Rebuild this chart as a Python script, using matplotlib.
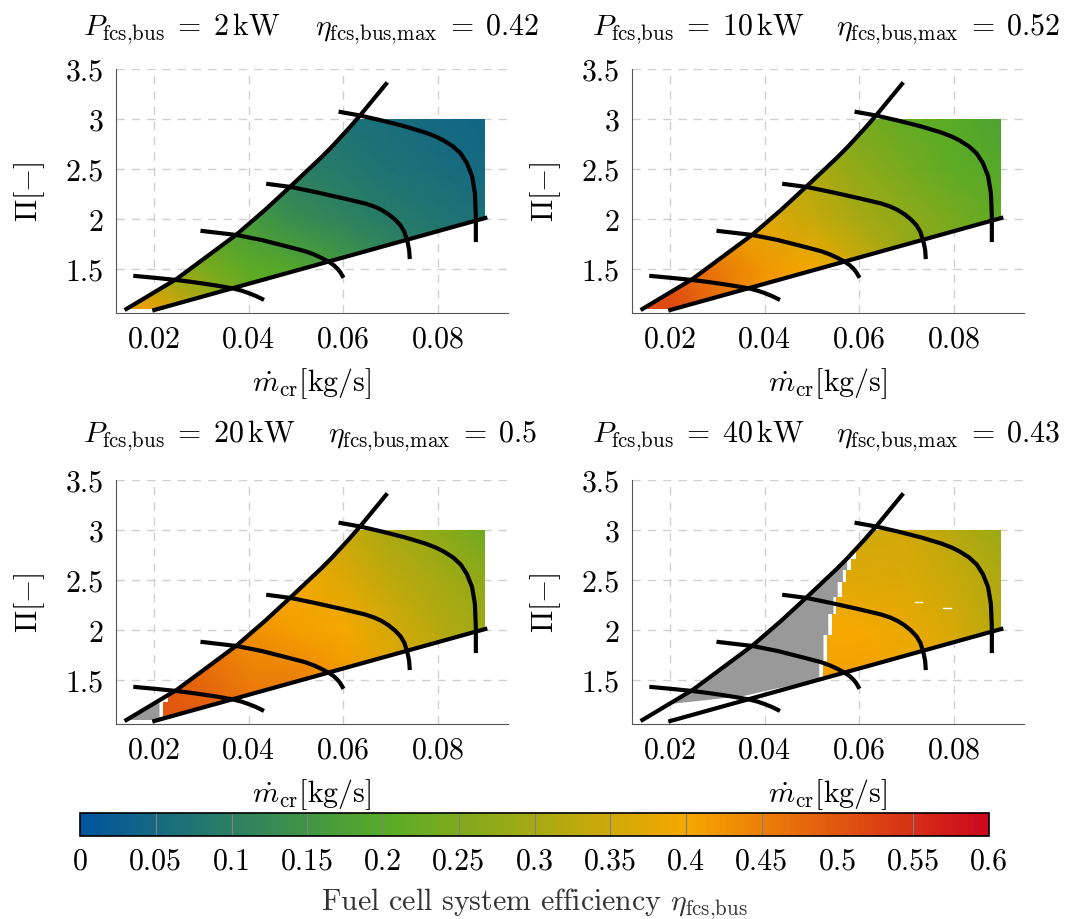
import matplotlib
matplotlib.use('Agg')
import matplotlib.pyplot as plt
import numpy as np
from matplotlib.colors import LinearSegmentedColormap, Normalize
from matplotlib.cm import ScalarMappable
from matplotlib.patches import Polygon

plt.rcParams['font.family'] = ['cmr10', 'DejaVu Serif']
plt.rcParams['mathtext.fontset'] = 'cm'
plt.rcParams['axes.unicode_minus'] = False
plt.rcParams['axes.formatter.use_mathtext'] = True

# efficiency, rows = pressure ratio, columns = mass flow
mdot_grid = [0.014, 0.02, 0.03, 0.04, 0.05, 0.06, 0.07, 0.08, 0.09]
pi_grid = [1.05, 1.5, 2.0, 2.5, 3.0]

eta_2kw = [[.42, .41, .33, .22, .19, .16, .12, .09, .07],
           [.30, .28, .25, .21, .19, .16, .12, .09, .07],
           [.20, .20, .18, .16, .13, .11, .09, .075, .065],
           [.16, .16, .14, .12, .10, .085, .07, .06, .05],
           [.14, .13, .12, .10, .085, .07, .06, .05, .04]]
eta_10kw = [[.52, .52, .47, .42, .40, .35, .29, .25, .22],
            [.50, .50, .46, .42, .40, .35, .28, .25, .22],
            [.40, .40, .39, .37, .34, .30, .27, .24, .21],
            [.36, .36, .35, .33, .31, .27, .24, .21, .195],
            [.32, .32, .31, .30, .28, .24, .215, .20, .18]]
eta_20kw = [[.50, .50, .50, .48, .46, .43, .39, .34, .30],
            [.50, .50, .48, .45, .45, .42, .38, .34, .30],
            [.46, .46, .46, .43, .41, .40, .36, .32, .29],
            [.40, .40, .40, .40, .40, .37, .33, .30, .27],
            [.37, .37, .37, .37, .37, .34, .30, .27, .23]]
eta_40kw = [[.41, .41, .41, .41, .41, .41, .40, .37, .33],
            [.41, .41, .41, .41, .41, .41, .40, .37, .32],
            [.40, .40, .40, .40, .40, .40, .385, .36, .31],
            [.375, .375, .375, .375, .375, .37, .365, .34, .31],
            [.35, .35, .35, .35, .35, .35, .355, .32, .285]]

# outline of the map with data
field_mdot = [0.0145, 0.0247, 0.0307, 0.0374, 0.0434, 0.0489, 0.0554, 0.0575, 0.0611, 0.0628, 0.09, 0.09, 0.02, 0.02]
field_pi = [1.10, 1.40, 1.61, 1.845, 2.09, 2.33, 2.62, 2.72, 2.905, 3.0, 3.0, 2.01, 1.09, 1.10]

# 20 kW: grey part at the low end
grey20_mdot = [0.0145, 0.0211, 0.0211]
grey20_pi = [1.10, 1.28, 1.10]
color20_mdot = [0.0228, 0.0247, 0.0307, 0.0374, 0.0434, 0.0489, 0.0554, 0.0575, 0.0611, 0.0628, 0.09, 0.09, 0.0218,
                0.0218, 0.0228]
color20_pi = [1.33, 1.40, 1.61, 1.845, 2.09, 2.33, 2.62, 2.72, 2.905, 3.0, 3.0, 2.01, 1.11, 1.28, 1.28]

# 40 kW: grey part left of the steps
grey40_mdot = [0.02, 0.0247, 0.0307, 0.0374, 0.0434, 0.0489, 0.0554, 0.0574, 0.0574, 0.0565, 0.0565, 0.0554, 0.0554,
               0.0545, 0.0545, 0.0534, 0.0534, 0.0524, 0.0524, 0.0515, 0.0515, 0.042, 0.0355, 0.02]
grey40_pi = [1.26, 1.40, 1.61, 1.845, 2.09, 2.33, 2.62, 2.72, 2.60, 2.60, 2.48, 2.48, 2.33, 2.33, 2.16, 2.16, 1.95,
             1.95, 1.69, 1.69, 1.50, 1.41, 1.34, 1.26]
color40_mdot = [0.0592, 0.0611, 0.0628, 0.09, 0.09, 0.0522, 0.0522, 0.0531, 0.0531, 0.0541, 0.0541, 0.0550, 0.0550,
                0.0563, 0.0563, 0.0571, 0.0571, 0.0582, 0.0582, 0.0592]
color40_pi = [2.80, 2.905, 3.0, 3.0, 2.01, 1.515, 1.69, 1.69, 1.95, 1.95, 2.16, 2.16, 2.33, 2.33, 2.48, 2.48, 2.60,
              2.60, 2.71, 2.71]
dash40_mdot = [[0.0717, 0.0733], [0.0777, 0.0793]]
dash40_pi = [2.285, 2.225]

# map lines
surge_mdot = [0.0141, 0.0247, 0.0307, 0.0374, 0.0434, 0.0489, 0.0554, 0.0575, 0.0611, 0.0636, 0.069]
surge_pi = [1.10, 1.40, 1.61, 1.845, 2.09, 2.33, 2.62, 2.72, 2.905, 3.04, 3.35]
choke_mdot = [0.02, 0.09]
choke_pi = [1.09, 2.01]
speed1_mdot = [0.016, 0.0205, 0.0247, 0.0277, 0.0307, 0.0337, 0.0367, 0.0385, 0.0399, 0.0415, 0.0428]
speed1_pi = [1.43, 1.41, 1.39, 1.372, 1.352, 1.33, 1.305, 1.283, 1.26, 1.23, 1.20]
speed2_mdot = [0.0302, 0.0374, 0.0427, 0.0477, 0.0519, 0.0538, 0.0554, 0.0568, 0.0579, 0.0587, 0.0593, 0.0598]
speed2_pi = [1.88, 1.84, 1.79, 1.73, 1.678, 1.645, 1.61, 1.575, 1.54, 1.505, 1.47, 1.43]
speed3_mdot = [0.0441, 0.0489, 0.054, 0.0597, 0.0646, 0.0665, 0.0681, 0.0696, 0.0709, 0.0721, 0.0729, 0.0736,
               0.0739, 0.074]
speed3_pi = [2.35, 2.32, 2.27, 2.21, 2.155, 2.125, 2.09, 2.045, 1.995, 1.935, 1.87, 1.76, 1.69, 1.62]
speed4_mdot = [0.0594, 0.0635, 0.0681, 0.0731, 0.0773, 0.0795, 0.0812, 0.0832, 0.0848, 0.0861, 0.0872, 0.0878,
               0.088, 0.088]
speed4_pi = [3.07, 3.035, 2.985, 2.925, 2.865, 2.825, 2.785, 2.725, 2.655, 2.56, 2.43, 2.26, 2.03, 1.79]

panel_eta = [eta_2kw, eta_10kw, eta_20kw, eta_40kw]
power_titles = ['2', '10', '20', '40']
eta_max_titles = [r'\eta_{\mathrm{fcs{,}bus{,}max}}\;=\;0.42', r'\eta_{\mathrm{fcs{,}bus{,}max}}\;=\;0.52',
                  r'\eta_{\mathrm{fcs{,}bus{,}max}}\;=\;0.5', r'\eta_{\mathrm{fsc{,}bus{,}max}}\;=\;0.43']
x_ticks = [0.02, 0.04, 0.06, 0.08]
x_labels = ['0.02', '0.04', '0.06', '0.08']
y_ticks = [1.5, 2, 2.5, 3, 3.5]
y_labels = ['1.5', '2', '2.5', '3', '3.5']
cbar_ticks = [0, 0.05, 0.1, 0.15, 0.2, 0.25, 0.3, 0.35, 0.4, 0.45, 0.5, 0.55, 0.6]
cbar_labels = ['0', '0.05', '0.1', '0.15', '0.2', '0.25', '0.3', '0.35', '0.4', '0.45', '0.5', '0.55', '0.6']
cbar_lines = [0.05, 0.1, 0.15, 0.2, 0.25, 0.3, 0.35, 0.4, 0.45, 0.55]

W, H = 1070, 920
FS = 21.5
LW = 3
cmap = LinearSegmentedColormap.from_list('rwth', ['#00549F', '#57AB27', '#F6A800', '#CC071E'])
norm = Normalize(0, 0.6)

fig = plt.figure(figsize=(W / 100, H / 100), dpi=100)


def px_axes(left, top, right, bottom):
    return fig.add_axes([left / W, 1 - bottom / H, (right - left) / W, (bottom - top) / H])


def draw_panel(ax, i):
    mesh = ax.pcolormesh(mdot_grid, pi_grid, np.array(panel_eta[i]), cmap=cmap, norm=norm, shading='gouraud', zorder=1)
    if i == 2:
        outline = (color20_mdot, color20_pi)
        ax.add_patch(Polygon(np.c_[grey20_mdot, grey20_pi], fc='#999999', ec='none', zorder=1))
    elif i == 3:
        outline = (color40_mdot, color40_pi)
        ax.add_patch(Polygon(np.c_[grey40_mdot, grey40_pi], fc='#999999', ec='none', zorder=1))
    else:
        outline = (field_mdot, field_pi)
    clip = Polygon(np.c_[outline[0], outline[1]], transform=ax.transData, fc='none', ec='none')
    ax.add_patch(clip)
    mesh.set_clip_path(clip)
    if i == 3:
        for xs, yv in zip(dash40_mdot, dash40_pi):
            ax.plot(xs, [yv, yv], color='white', lw=1.0, zorder=2)

    ax.plot(surge_mdot, surge_pi, color='k', lw=LW, zorder=4)
    ax.plot(choke_mdot, choke_pi, color='k', lw=LW, zorder=4)
    ax.plot(speed1_mdot, speed1_pi, color='k', lw=LW, zorder=4)
    ax.plot(speed2_mdot, speed2_pi, color='k', lw=LW, zorder=4)
    ax.plot(speed3_mdot, speed3_pi, color='k', lw=LW, zorder=4)
    ax.plot(speed4_mdot, speed4_pi, color='k', lw=LW, zorder=4)

    ax.set_xlim(0.0119, 0.0948)
    ax.set_ylim(1.06, 3.5)
    ax.set_xticks(x_ticks, x_labels, fontsize=FS)
    ax.set_yticks(y_ticks, y_labels, fontsize=FS)
    ax.grid(True, color='#d0d0d0', lw=1, ls=(0, (6, 5)), zorder=0)
    ax.set_axisbelow(True)
    ax.spines['top'].set_visible(False)
    ax.spines['right'].set_visible(False)
    ax.spines['left'].set_color('#555555')
    ax.spines['bottom'].set_color('#555555')
    ax.tick_params(length=0, pad=9)
    ax.set_xlabel(r'$\dot{m}_{\mathrm{cr}}[\mathrm{kg/s}]$', fontsize=FS, labelpad=8.5)
    ax.set_ylabel(r'$\Pi[-]$', fontsize=FS, labelpad=13)


boxes = [(116, 70, 508, 314), (632, 70, 1024, 314), (116, 481, 508, 725), (632, 481, 1024, 725)]
title_x1 = [83, 592, 83, 592]
title_x2 = [315, 836, 328, 836]
title_y = [29, 29, 436, 436]
for i, box in enumerate(boxes):
    ax = px_axes(*box)
    draw_panel(ax, i)
    fig.text(title_x1[i] / W, 1 - title_y[i] / H,
             r'$P_{\mathrm{fcs{,}bus}}\;=\;%s\,\mathrm{kW}$' % power_titles[i],
             fontsize=FS, va='center', ha='left')
    fig.text(title_x2[i] / W, 1 - title_y[i] / H, '$' + eta_max_titles[i] + '$', fontsize=FS, va='center', ha='left')

cax = px_axes(80, 814, 989, 837)
cb = fig.colorbar(ScalarMappable(norm=norm, cmap=cmap), cax=cax, orientation='horizontal')
cb.set_ticks(cbar_ticks, labels=cbar_labels, fontsize=FS)
cb.ax.tick_params(length=0, pad=8)
cb.outline.set_edgecolor('k')
cb.outline.set_linewidth(1.2)
cax.vlines(cbar_lines, 0, 1, color='#808080', lw=0.8, transform=cax.get_xaxis_transform())
cb.set_label(r'Fuel cell system efficiency $\eta_{\mathrm{fcs{,}bus}}$', fontsize=FS, labelpad=8, color='#333333')

fig.savefig('out.png', dpi=100)
